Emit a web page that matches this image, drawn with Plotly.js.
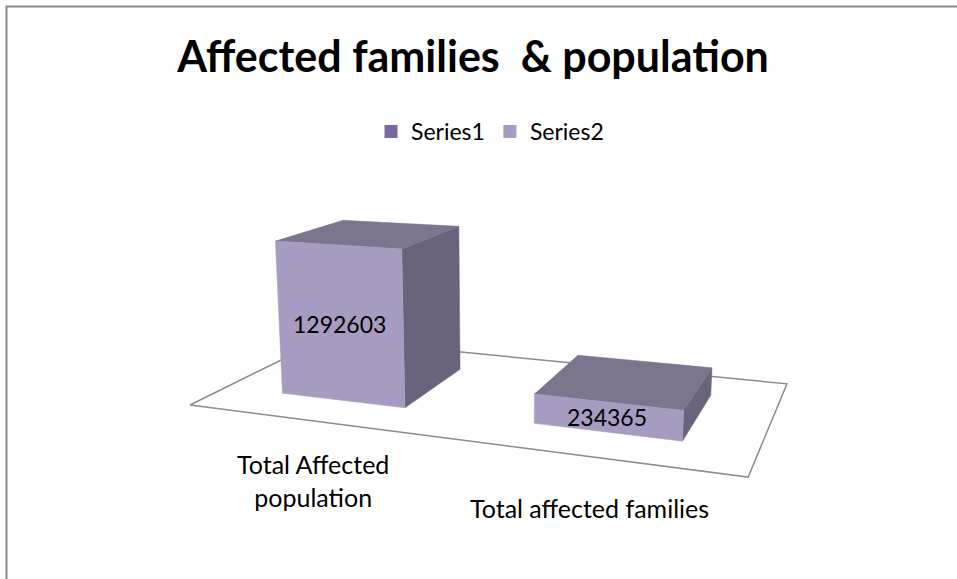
<!DOCTYPE html>
<html><head><meta charset="utf-8">
<script src="https://cdn.plot.ly/plotly-3.0.1.min.js"></script>
<style>html,body{margin:0;padding:0;background:#fff}#chart{width:957px;height:579px}</style>
</head><body><div id="chart"></div>
<script>
// ---- data ----
const categories = ["Total Affected<br>population", "Total affected families"];
const seriesNames = ["Series1", "Series2"];
const series1Values = [null, null];
const series2Values = [1292603, 234365];
const valueAxisMax = 1400000;

// ---- styling ----
const seriesColors = ["#7B67A0", "#A89BC1"];
const frontColor = "#A89BC1", topColor = "#7D748E", sideColor = "#6B627C";
const FONT = "Lato, Calibri, Carlito, sans-serif";

// ---- 3D projection (perspective view of the chart's floor/walls) ----
const cam = {a: -0.1824, b: 0.2217, vu: [-2312, 82], vd: [930, 40],
             vh: [-17.49, -178.2, -0.03498], o: [190, 405]};
function project(u, d, h) {
  const A = cam.a * u, B = cam.b * d;
  const w = 1 + A + B + cam.vh[2] * h;
  const x = (cam.vu[0] * A + cam.vd[0] * B + cam.vh[0] * h + cam.o[0]) / w;
  const y = (cam.vu[1] * A + cam.vd[1] * B + cam.vh[1] * h + cam.o[1]) / w;
  return [x, y];
}
function poly(pts) {
  const p = pts.map(q => project(q[0], q[1], q[2]));
  p.push(p[0]);
  return {x: p.map(q => q[0]), y: p.map(q => q[1])};
}

const n = categories.length;
const barWidth = 0.255, d0 = 0.24, d1 = 0.76;
const traces = [];

// floor
const floor = poly([[0,0,0],[1,0,0],[1,1,0],[0,1,0]]);
traces.push({type: "scatter", mode: "lines", x: floor.x, y: floor.y, fill: "toself",
  fillcolor: "#ffffff", line: {color: "#8C8C8C", width: 1.5}, hoverinfo: "skip", showlegend: false});

const annotations = [];
series2Values.forEach((v, i) => {
  const uc = (i + 0.5) / n, u0 = uc - barWidth / 2, u1 = uc + barWidth / 2;
  const h = v / valueAxisMax;
  const front = poly([[u0,d0,0],[u1,d0,0],[u1,d0,h],[u0,d0,h]]);
  const top = poly([[u0,d0,h],[u1,d0,h],[u1,d1,h],[u0,d1,h]]);
  const side = poly([[u1,d0,0],[u1,d1,0],[u1,d1,h],[u1,d0,h]]);
  [[side, sideColor], [top, topColor], [front, frontColor]].forEach(([f, c]) => {
    traces.push({type: "scatter", mode: "lines", x: f.x, y: f.y, fill: "toself",
      fillcolor: c, line: {color: c, width: 0.5}, hoverinfo: "skip", showlegend: false});
  });
  const lc = project(uc, d0, h / 2);
  annotations.push({x: lc[0], y: lc[1], xref: "x", yref: "y", text: String(v), showarrow: false,
    font: {family: FONT, size: 23, color: "#000"}, xanchor: "center", yanchor: "middle"});
  const cl = project(uc, 0, 0);
  const lines = categories[i].split("<br>").length;
  annotations.push({x: cl[0] + 3, y: cl[1], xref: "x", yref: "y", text: categories[i], showarrow: false,
    font: {family: FONT, size: 25, color: "#000"}, xanchor: "center", yanchor: "middle",
    yshift: -(43 + 8.5 * lines)});
});

// legend entries
seriesNames.forEach((s, i) => {
  traces.push({type: "scatter", mode: "markers", name: s, x: [null], y: [null],
    marker: {symbol: "square", size: 13, color: seriesColors[i]}, hoverinfo: "skip"});
});

const layout = {
  width: 957, height: 579,
  margin: {l: 0, r: 0, t: 0, b: 0},
  paper_bgcolor: "#ffffff", plot_bgcolor: "#ffffff",
  title: {text: "<b>Affected families  & population</b>", font: {family: FONT, size: 43, color: "#000"},
          x: 473/957, xanchor: "center", y: 1 - 57/579, yanchor: "middle"},
  xaxis: {range: [0, 957], visible: false, fixedrange: true},
  yaxis: {range: [579, 0], visible: false, fixedrange: true},
  showlegend: true,
  legend: {orientation: "h", x: 490/957, xanchor: "center", y: 1 - 110/579, yanchor: "top",
           font: {family: FONT, size: 23, color: "#000"}, bgcolor: "rgba(0,0,0,0)", itemwidth: 30},
  annotations: annotations,
  shapes: [{type: "rect", xref: "paper", yref: "paper", x0: 6.5/957, x1: 1.1, y0: -0.1, y1: 1 - 6.5/579,
            line: {color: "#888888", width: 2}, fillcolor: "rgba(0,0,0,0)", layer: "below"}]
};
Plotly.newPlot("chart", traces, layout, {displayModeBar: false, staticPlot: true});
</script></body></html>
